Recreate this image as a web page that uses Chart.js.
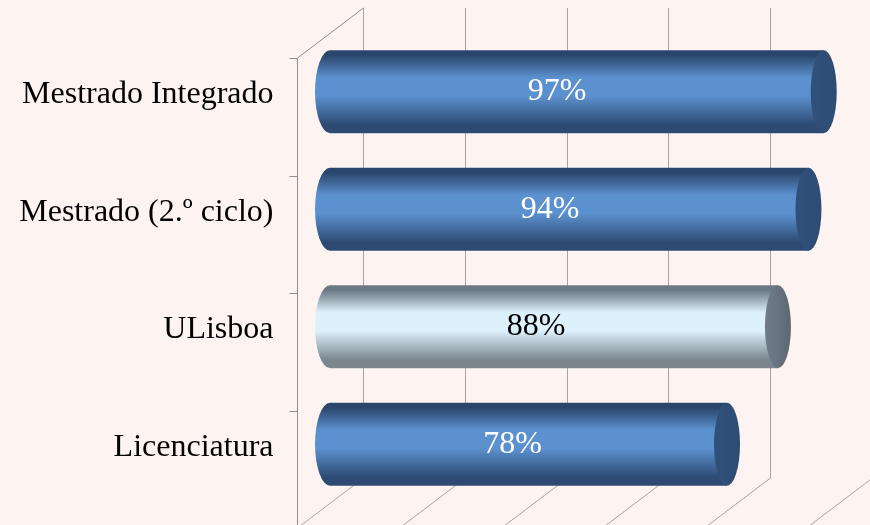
<!DOCTYPE html>
<html>
<head>
<meta charset="utf-8">
<script src="https://cdn.jsdelivr.net/npm/chart.js@4.4.1/dist/chart.umd.min.js"></script>
<style>
  html, body { margin: 0; padding: 0; background: #fdf4f2; }
  #wrap { width: 870px; height: 525px; position: relative; }
</style>
</head>
<body>
<div id="wrap"><canvas id="myChart"></canvas></div>
<script>
const categories = ['Mestrado Integrado', 'Mestrado (2.º ciclo)', 'ULisboa', 'Licenciatura']
const values = [97, 94, 88, 78]
const gridTicks = [0, 20, 40, 60, 80, 100]

// depth of the fake 3d box (half of it, the bars sit in the middle)
const DX = 33
const DY = 25

const blue = { top: '#2b466c', mid: '#5c91cf', bottom: '#2d4a72', cap: '#30507a' }
const grey = { top: '#6c7984', mid: '#ddf1fc', bottom: '#7b868e', cap: '#717e8a' }
const serif = '"Liberation Serif", "Times New Roman", serif'

// gridlines: back wall, floor and left wall, plus category labels
const box3d = {
  id: 'box3d',
  beforeDatasetsDraw(chart) {
    const { ctx, chartArea } = chart
    const xs = chart.scales.x
    const top = chartArea.top, bottom = chartArea.bottom
    ctx.save()
    ctx.lineWidth = 1
    ctx.strokeStyle = '#a9a49f'
    gridTicks.forEach(t => {
      const px = Math.round(xs.getPixelForValue(t)) + 0.5
      ctx.beginPath()
      ctx.moveTo(px + DX, top - DY)
      ctx.lineTo(px + DX, bottom - DY)
      ctx.lineTo(px - DX, bottom + DY)
      ctx.stroke()
    })
    // left wall
    const x0 = Math.round(xs.getPixelForValue(0)) + 0.5
    ctx.strokeStyle = '#8f8f8f'
    ctx.beginPath()
    ctx.moveTo(x0 + DX, top - DY)
    ctx.lineTo(x0 - DX, top + DY)
    ctx.lineTo(x0 - DX, bottom + DY)
    ctx.stroke()
    // tick marks on the front axis
    const n = categories.length
    for (let i = 0; i <= n; i++) {
      const y = Math.round(top + DY + (bottom - top) * i / n) + 0.5
      ctx.beginPath()
      ctx.moveTo(x0 - DX - 8, y)
      ctx.lineTo(x0 - DX, y)
      ctx.stroke()
    }
    // category labels
    const ys = chart.scales.y
    ctx.font = '32px ' + serif
    ctx.textAlign = 'right'
    ctx.textBaseline = 'middle'
    ctx.fillStyle = '#000000'
    categories.forEach((c, i) => {
      ctx.fillText(c, x0 - DX - 24, ys.getPixelForValue(i) + 3)
    })
    ctx.restore()
  }
}

// cylinders + value labels
const cylinders = {
  id: 'cylinders',
  afterDatasetsDraw(chart) {
    const { ctx } = chart
    const xs = chart.scales.x
    const meta = chart.getDatasetMeta(0)
    meta.data.forEach((bar, i) => {
      const c = categories[i] === 'ULisboa' ? grey : blue
      const h = bar.height
      const top = bar.y - h / 2, bottom = bar.y + h / 2
      const x0 = bar.base, x1 = bar.x
      const rx = 13, ry = h / 2

      const g = ctx.createLinearGradient(0, top, 0, bottom)
      g.addColorStop(0, c.top)
      g.addColorStop(0.06, c.top)
      g.addColorStop(0.33, c.mid)
      g.addColorStop(0.55, c.mid)
      g.addColorStop(0.9, c.bottom)
      g.addColorStop(1, c.bottom)

      ctx.save()
      ctx.beginPath()
      ctx.moveTo(x0, top)
      ctx.lineTo(x1, top)
      ctx.lineTo(x1, bottom)
      ctx.lineTo(x0, bottom)
      ctx.ellipse(x0, bar.y, rx + 2, ry, 0, Math.PI / 2, Math.PI * 1.5)
      ctx.closePath()
      ctx.fillStyle = g
      ctx.fill()

      // end cap
      const cg = ctx.createLinearGradient(x1 - rx, 0, x1 + rx, 0)
      cg.addColorStop(0, c.cap)
      cg.addColorStop(1, c === grey ? '#5d6771' : '#2e4c74')
      ctx.beginPath()
      ctx.ellipse(x1, bar.y, rx, ry, 0, 0, Math.PI * 2)
      ctx.fillStyle = cg
      ctx.fill()

      ctx.font = '32px ' + serif
      ctx.textAlign = 'center'
      ctx.textBaseline = 'middle'
      ctx.fillStyle = c === grey ? '#000000' : '#ffffff'
      ctx.fillText(values[i] + '%', xs.getPixelForValue(values[i] * 0.46), bar.y)
      ctx.restore()
    })
  }
}

const ctx = document.getElementById('myChart')

new Chart(ctx, {
  type: 'bar',
  plugins: [box3d, cylinders],
  data: {
    labels: categories,
    datasets: [{
      data: values,
      backgroundColor: 'rgba(0,0,0,0)',
      barPercentage: 0.85,
      categoryPercentage: 0.83
    }]
  },
  options: {
    indexAxis: 'y',
    responsive: true,
    maintainAspectRatio: false,
    animation: false,
    events: [],
    layout: { padding: { top: 33, bottom: 22, right: 31, left: 330 } },
    plugins: { legend: { display: false }, tooltip: { enabled: false } },
    scales: {
      x: { display: false, min: 0, max: 100 },
      y: { display: false }
    }
  }
})
</script>
</body>
</html>
